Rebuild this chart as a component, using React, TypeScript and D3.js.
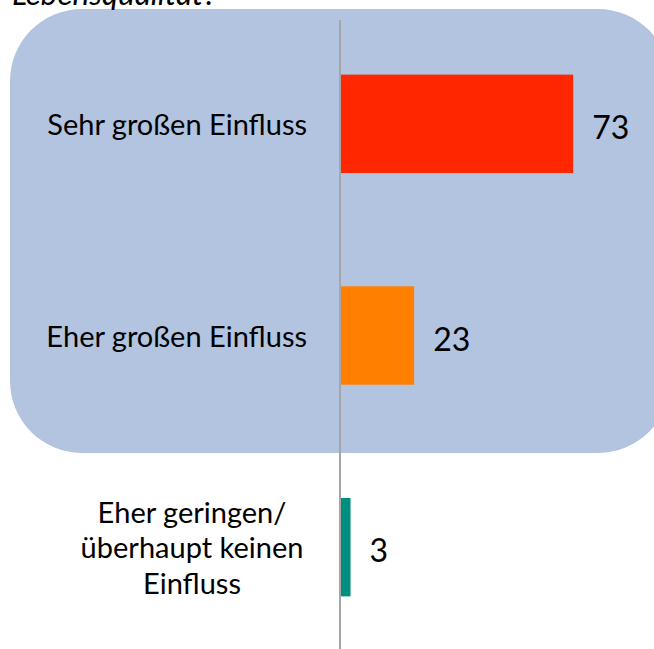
import { useEffect, useRef } from 'react';
import * as d3 from 'd3';

// Daten
const categories = ['Sehr großen Einfluss', 'Eher großen Einfluss', 'Eher geringen/überhaupt keinen Einfluss'];
const labelLines = [['Sehr großen Einfluss'], ['Eher großen Einfluss'], ['Eher geringen/', 'überhaupt keinen', 'Einfluss']];
const values = [73, 23, 3];
const barColors = ['#ff2600', '#ff7f00', '#008f7f'];
const titleText = 'Lebensqualität?';

const W = 654;
const H = 649;

export default function App() {
  const ref = useRef<SVGSVGElement>(null);

  useEffect(() => {
    const svg = d3.select(ref.current);
    svg.selectAll('*').remove();

    const font = 'Lato, "Open Sans", sans-serif';

    const x = d3.scaleLinear().domain([0, 100]).range([341, 659]);
    const y = d3.scaleBand<string>()
      .domain(categories)
      .range([18, 653])
      .paddingInner(0.535)
      .paddingOuter(0.2675);

    // Hintergrund (abgerundetes Rechteck)
    svg.append('rect')
      .attr('x', 10).attr('y', 9)
      .attr('width', 660).attr('height', 444)
      .attr('rx', 72).attr('ry', 72)
      .attr('fill', '#b3c4e1');

    // Titel (oben abgeschnitten, wie im Original)
    svg.append('text')
      .attr('x', 12).attr('y', 5)
      .attr('font-family', font)
      .attr('font-style', 'italic')
      .attr('font-size', 31.5)
      .attr('fill', '#000')
      .text(titleText);

    // Balken
    svg.selectAll('rect.bar')
      .data(values)
      .enter()
      .append('rect')
      .attr('class', 'bar')
      .attr('x', x(0))
      .attr('y', (d, i) => y(categories[i])!)
      .attr('width', d => x(d) - x(0))
      .attr('height', y.bandwidth())
      .attr('fill', (d, i) => barColors[i]);

    // Achse
    svg.append('line')
      .attr('x1', x(0) - 1).attr('x2', x(0) - 1)
      .attr('y1', 20).attr('y2', H)
      .attr('stroke', '#a6a6a6')
      .attr('stroke-width', 2);

    // Werte
    svg.selectAll('text.val')
      .data(values)
      .enter()
      .append('text')
      .attr('class', 'val')
      .attr('x', d => x(d) + 19)
      .attr('y', (d, i) => y(categories[i])! + y.bandwidth() / 2 + 15)
      .attr('font-family', font)
      .attr('font-size', 32)
      .attr('fill', '#000')
      .text(d => d);

    // Kategorien
    labelLines.forEach((lines, i) => {
      const cy = y(categories[i])! + y.bandwidth() / 2;
      const lh = 35.5;
      const multi = lines.length > 1;
      const t = svg.append('text')
        .attr('font-family', font)
        .attr('font-size', 29)
        .attr('fill', '#000')
        .attr('text-anchor', multi ? 'middle' : 'end');
      lines.forEach((ln, j) => {
        t.append('tspan')
          .attr('x', multi ? 192 : 307)
          .attr('y', cy + 11 + (j - (lines.length - 1) / 2) * lh)
          .text(ln);
      });
    });
  }, []);

  return (
    <svg
      ref={ref}
      width={W}
      height={H}
      style={{ position: 'absolute', left: 0, top: 0, background: '#fff' }}
    />
  );
}
